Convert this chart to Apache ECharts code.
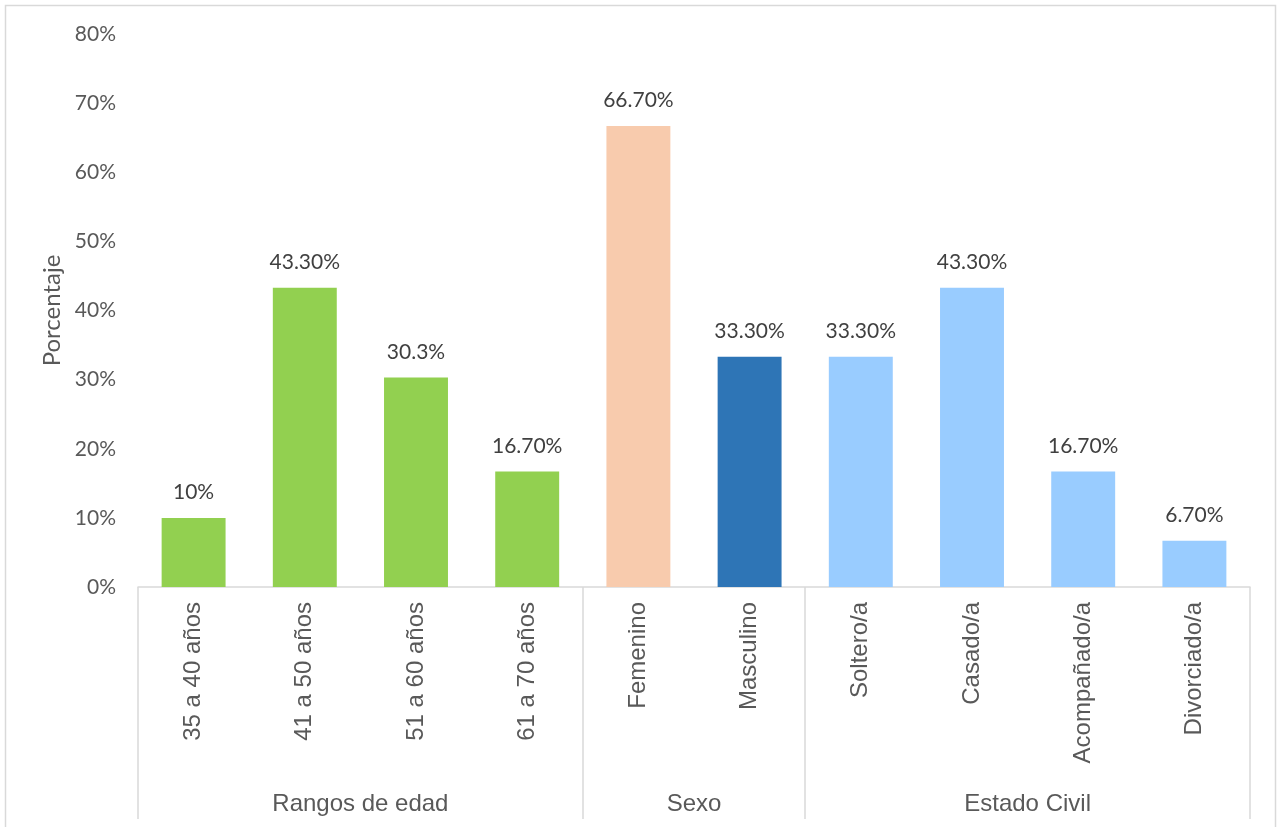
<!DOCTYPE html>
<html>
<head>
<meta charset="utf-8">
<script src="https://cdn.jsdelivr.net/npm/echarts@6/dist/echarts.min.js"></script>
<style>
  html, body { margin: 0; padding: 0; background: #ffffff; }
  #chart { width: 1281px; height: 827px; }
</style>
</head>
<body>
<div id="chart"></div>
<script>
// Categories along the x axis
const categories = [
  '35 a 40 años', '41 a 50 años', '51 a 60 años', '61 a 70 años',
  'Femenino', 'Masculino',
  'Soltero/a', 'Casado/a', 'Acompañado/a', 'Divorciado/a'
];
// Percentage for each category
const values = [10, 43.3, 30.3, 16.7, 66.7, 33.3, 33.3, 43.3, 16.7, 6.7];
// Value labels as printed above each bar
const valueLabels = ['10%', '43.30%', '30.3%', '16.70%', '66.70%', '33.30%', '33.30%', '43.30%', '16.70%', '6.70%'];
// Category groups and how many categories each one spans
const groupNames = ['Rangos de edad', 'Sexo', 'Estado Civil'];
const groupSizes = [4, 2, 4];
// Y axis ticks
const yTicks = [0, 10, 20, 30, 40, 50, 60, 70, 80];

// Colour per category
const barColors = [
  '#92D050', '#92D050', '#92D050', '#92D050',
  '#F8CBAD', '#2E75B6',
  '#99CCFF', '#99CCFF', '#99CCFF', '#99CCFF'
];

// Group boundaries and centres on a 0..n scale matching the category band
const bounds = [0];
groupSizes.forEach(s => bounds.push(bounds[bounds.length - 1] + s));
const centers = groupSizes.map((s, i) => bounds[i] + s / 2);

const gridLine = '#D9D9D9';
const textGray = '#595959';

const chart = echarts.init(document.getElementById('chart'), null, { renderer: 'canvas' });
chart.setOption({
  animation: false,
  backgroundColor: '#ffffff',
  grid: { left: 138, right: 31, top: 34, bottom: 240, containLabel: false },
  graphic: [{
    type: 'rect',
    shape: { x: 5.5, y: 5.5, width: 1270, height: 840 },
    style: { fill: 'none', stroke: gridLine, lineWidth: 1.5 },
    silent: true
  }],
  xAxis: [{
    type: 'category',
    data: categories,
    position: 'bottom',
    axisLine: { show: true, lineStyle: { color: gridLine, width: 1.5 } },
    axisTick: { show: false },
    axisLabel: {
      rotate: 90,
      interval: 0,
      margin: 15,
      color: textGray,
      fontFamily: 'Liberation Sans',
      fontSize: 24
    }
  }, {
    type: 'value',
    min: 0,
    max: categories.length,
    position: 'bottom',
    axisLine: { show: false },
    splitLine: { show: false },
    axisTick: {
      show: true,
      inside: false,
      length: 232,
      customValues: bounds,
      lineStyle: { color: gridLine, width: 1.5 }
    },
    axisLabel: {
      customValues: centers,
      formatter: function (v) {
        const i = centers.indexOf(v);
        return i >= 0 ? groupNames[i] : '';
      },
      margin: 205,
      color: textGray,
      fontFamily: 'Liberation Sans',
      fontSize: 24
    }
  }],
  yAxis: {
    type: 'value',
    min: yTicks[0],
    max: yTicks[yTicks.length - 1],
    interval: 10,
    name: 'Porcentaje',
    nameLocation: 'middle',
    nameRotate: 90,
    nameGap: 72,
    nameTextStyle: { color: textGray, fontFamily: 'Lato', fontSize: 24 },
    axisLine: { show: false },
    axisTick: { show: false },
    splitLine: { show: false },
    axisLabel: {
      formatter: '{value}%',
      margin: 22,
      color: textGray,
      fontFamily: 'Lato',
      fontSize: 21
    }
  },
  series: [{
    type: 'bar',
    xAxisIndex: 0,
    barWidth: '57.5%',
    data: values.map((v, i) => ({ value: v, itemStyle: { color: barColors[i] } })),
    label: {
      show: true,
      position: 'top',
      distance: 15,
      formatter: p => valueLabels[p.dataIndex],
      color: '#404040',
      fontFamily: 'Lato',
      fontSize: 21
    }
  }]
});
</script>
</body>
</html>
